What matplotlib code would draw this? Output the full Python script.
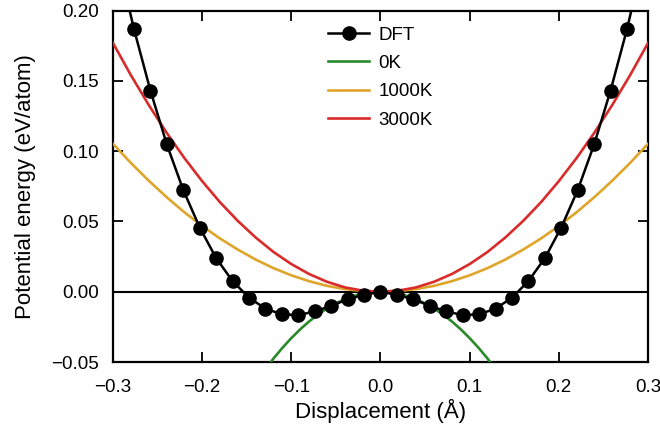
import matplotlib
matplotlib.use("Agg")
import matplotlib.pyplot as plt

plt.rcParams['font.family'] = ['Liberation Sans', 'DejaVu Sans']

# DFT points (displacement in A, energy in eV/atom)
dft_x = [-0.2949, -0.2765, -0.2580, -0.2396, -0.2212, -0.2027, -0.1843, -0.1659,
         -0.1474, -0.1290, -0.1106, -0.0922, -0.0737, -0.0553, -0.0369, -0.0184,
         0.0000, 0.0184, 0.0369, 0.0553, 0.0737, 0.0922, 0.1106, 0.1290,
         0.1474, 0.1659, 0.1843, 0.2027, 0.2212, 0.2396, 0.2580, 0.2765, 0.2949]
dft_e = [0.237, 0.187, 0.1431, 0.1048, 0.0724, 0.0457, 0.0239, 0.0076,
         -0.0043, -0.0120, -0.0161, -0.0166, -0.0140, -0.0100, -0.0054, -0.0022,
         0.0, -0.0022, -0.0054, -0.0100, -0.0140, -0.0166, -0.0161, -0.0120,
         -0.0043, 0.0076, 0.0239, 0.0457, 0.0724, 0.1048, 0.1431, 0.187, 0.237]

# fitted curves
fit_x = [-0.30, -0.28, -0.26, -0.24, -0.22, -0.20, -0.18, -0.16, -0.14, -0.12,
         -0.10, -0.08, -0.06, -0.04, -0.02, 0.00, 0.02, 0.04, 0.06, 0.08,
         0.10, 0.12, 0.14, 0.16, 0.18, 0.20, 0.22, 0.24, 0.26, 0.28, 0.30]
e_1000k = [0.1053, 0.0917, 0.0791, 0.0674, 0.0566, 0.0468, 0.0379, 0.0300, 0.0229, 0.0168,
           0.0117, 0.0075, 0.0042, 0.0019, 0.0005, 0.0, 0.0005, 0.0019, 0.0042, 0.0075,
           0.0117, 0.0168, 0.0229, 0.0300, 0.0379, 0.0468, 0.0566, 0.0674, 0.0791, 0.0917, 0.1053]
e_3000k = [0.1770, 0.1542, 0.1330, 0.1133, 0.0952, 0.0787, 0.0637, 0.0504, 0.0386, 0.0283,
           0.0197, 0.0126, 0.0071, 0.0031, 0.0008, 0.0, 0.0008, 0.0031, 0.0071, 0.0126,
           0.0197, 0.0283, 0.0386, 0.0504, 0.0637, 0.0787, 0.0952, 0.1133, 0.1330, 0.1542, 0.1770]

x_0k = [-0.14, -0.13, -0.12, -0.11, -0.10, -0.09, -0.08, -0.07, -0.06, -0.05, -0.04, -0.03,
        -0.02, -0.01, 0.00, 0.01, 0.02, 0.03, 0.04, 0.05, 0.06, 0.07, 0.08, 0.09,
        0.10, 0.11, 0.12, 0.13, 0.14]
e_0k = [-0.0647, -0.0558, -0.0475, -0.0399, -0.0330, -0.0267, -0.0211, -0.0162, -0.0119,
        -0.0083, -0.0053, -0.0030, -0.0013, -0.0003, 0.0, -0.0003, -0.0013, -0.0030,
        -0.0053, -0.0083, -0.0119, -0.0162, -0.0211, -0.0267, -0.0330, -0.0399,
        -0.0475, -0.0558, -0.0647]

fig = plt.figure(figsize=(6.6, 4.37), dpi=100)
ax = fig.add_axes([0.1712, 0.1716, 0.8106, 0.8039])

ax.axhline(0, color="black", lw=1.5, zorder=1)
ax.plot(dft_x, dft_e, color="black", lw=1.8, marker="o", ms=9.5, label="DFT", zorder=5)
ax.plot(x_0k, e_0k, color="#2a8a2a", lw=1.9, label="0K", zorder=3)
ax.plot(fit_x, e_1000k, color="#dfa52a", lw=1.9, label="1000K", zorder=3)
ax.plot(fit_x, e_3000k, color="#d92b2b", lw=1.9, label="3000K", zorder=3)

ax.set_xlim(-0.3, 0.3)
ax.set_ylim(-0.05, 0.2)
ax.set_xticks([-0.3, -0.2, -0.1, 0.0, 0.1, 0.2, 0.3])
ax.set_yticks([-0.05, 0.0, 0.05, 0.10, 0.15, 0.20])
ax.set_xticklabels(["\u22120.3", "\u22120.2", "\u22120.1", "0.0", "0.1", "0.2", "0.3"])
ax.set_yticklabels(["\u22120.05", "0.00", "0.05", "0.10", "0.15", "0.20"])

ax.tick_params(direction="in", length=7, width=1.3, top=True, right=True, labelsize=13.5)
ax.tick_params(axis="x", pad=12)
ax.tick_params(axis="y", pad=10)
for s in ax.spines.values():
    s.set_linewidth(1.6)

ax.set_xlabel("Displacement (\u00c5)", fontsize=16, labelpad=2)
ax.set_ylabel("Potential energy (eV/atom)", fontsize=16, labelpad=11)

ax.legend(loc="upper left", bbox_to_anchor=(0.402, 0.955), frameon=False, fontsize=13.5,
          numpoints=1, handlelength=2.2, handletextpad=0.5, labelspacing=0.6,
          borderpad=0, borderaxespad=0)

fig.savefig("out.png", dpi=100)
